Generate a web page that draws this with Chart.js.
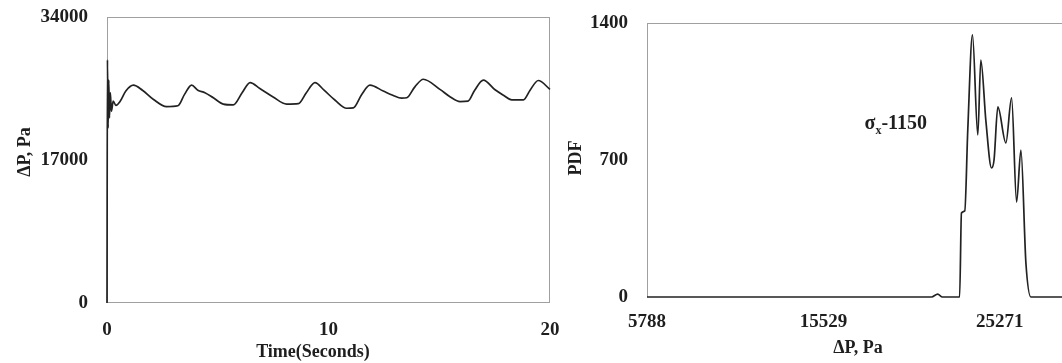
<!DOCTYPE html>
<html>
<head>
<meta charset="utf-8">
<script src="https://cdn.jsdelivr.net/npm/chart.js@4.4.1/dist/chart.umd.min.js"></script>
<style>
    body { margin: 0; background: #fff; }
    #wrap { position: relative; width: 1062px; height: 363px; overflow: hidden; }
    #tempo { position: absolute; left: 0; top: 0; }
    #pdf { position: absolute; left: 560px; top: 0; }
</style>
</head>
<body>
<div id="wrap">
    <canvas id="tempo" width="560" height="363"></canvas>
    <canvas id="pdf" width="502" height="363"></canvas>
</div>
<script>
// Serie temporal (s, Pa)
const tempoSeg = [0, 0.02, 0.05, 0.08, 0.11, 0.15, 0.2, 0.28, 0.4, 0.6, 0.85, 1.19, 1.6, 2.1, 2.69, 3.2, 3.5, 3.82, 4.1, 4.42,
    4.8, 5.25, 5.7, 6.1, 6.46, 6.9, 7.5, 8.11, 8.64, 9.0, 9.39, 9.8, 10.3, 10.82, 11.12, 11.5, 11.87, 12.47, 12.9, 13.3,
    13.53, 13.9, 14.28, 15.03, 15.5, 15.94, 16.3, 16.6, 16.99, 17.52, 17.9, 18.27, 18.8, 19.1, 19.47, 20];
const deltaP = [0, 28900, 20800, 26500, 22000, 25000, 22800, 24000, 23500, 24000, 25200, 25900, 25300, 24200, 23350, 23450, 24800, 25900, 25300, 25000,
    24400, 23650, 23550, 25000, 26200, 25500, 24500, 23650, 23700, 25000, 26200, 25300, 24100, 23150, 23200, 24800, 25900, 25200, 24700, 24350,
    24400, 25700, 26600, 25400, 24500, 23950, 24000, 25300, 26500, 25350, 24700, 24150, 24150, 25300, 26450, 25400];

// Distribuicao (Pa, PDF)
const pdfPa = [5788, 21500, 21839, 22100, 23050, 23151, 23334, 23500, 23760, 24054, 24220, 24500, 24812, 24950, 25161,
    25603, 25919, 26196, 26434, 26710, 26987, 28703];
const pdfVal = [0, 0, 15, 0, 0, 429, 440, 853, 1339, 828, 1211, 900, 659, 700, 971,
    787, 1017, 485, 751, 174, 0, 0];

// Ticks
const ticksTempo = [0, 10, 20];
const ticksDeltaP = [0, 17000, 34000];
const ticksPa = [5788, 15529, 25271];
const ticksPdf = [0, 700, 1400];

const fonte = "'Liberation Serif', 'Times New Roman', serif";
const corTexto = "#1e1e1e";

// Moldura, titulos e anotacao
const molduraPlugin = {
    id: "moldura",
    beforeDatasetsDraw(chart, args, opts) {
        const a = chart.chartArea;
        const ctx = chart.ctx;
        ctx.save();
        ctx.strokeStyle = "#a0a0a0";
        ctx.lineWidth = 1;
        ctx.beginPath();
        if (opts.lados.includes("top")) { ctx.moveTo(a.left, a.top + 0.5); ctx.lineTo(a.right, a.top + 0.5); }
        if (opts.lados.includes("left")) { ctx.moveTo(a.left + 0.5, a.top); ctx.lineTo(a.left + 0.5, a.bottom); }
        if (opts.lados.includes("right")) { ctx.moveTo(a.right - 0.5, a.top); ctx.lineTo(a.right - 0.5, a.bottom); }
        if (opts.lados.includes("bottom")) { ctx.moveTo(a.left, a.bottom - 0.5); ctx.lineTo(a.right, a.bottom - 0.5); }
        ctx.stroke();
        ctx.restore();
    },
    afterDraw(chart, args, opts) {
        const ctx = chart.ctx;
        ctx.save();
        ctx.fillStyle = corTexto;
        ctx.font = "bold 18px " + fonte;
        ctx.textAlign = "center";
        ctx.textBaseline = "middle";
        (opts.titulos || []).forEach(t => {
            ctx.save();
            ctx.translate(t.x, t.y);
            if (t.girar) ctx.rotate(-Math.PI / 2);
            ctx.fillText(t.texto, 0, 0);
            ctx.restore();
        });
        if (opts.nota) {
            const x = chart.scales.x.getPixelForValue(opts.nota.x);
            const y = chart.scales.y.getPixelForValue(opts.nota.y);
            ctx.textAlign = "left";
            ctx.textBaseline = "alphabetic";
            ctx.font = "bold 20px " + fonte;
            ctx.fillText("σ", x, y);
            let w = ctx.measureText("σ").width;
            ctx.font = "bold 12px " + fonte;
            ctx.fillText("x", x + w, y + 5);
            w += ctx.measureText("x").width;
            ctx.font = "bold 20px " + fonte;
            ctx.fillText("-1150", x + w, y);
        }
        ctx.restore();
    }
};

function escala(min, max, ticks, fit) {
    return {
        type: "linear",
        min: min,
        max: max,
        grid: { display: false, drawTicks: false },
        border: { display: false },
        ticks: {
            color: corTexto,
            font: { family: fonte, size: 19, weight: "bold" },
            padding: fit.pad,
            maxRotation: 0,
            autoSkip: false,
            callback: v => String(v)
        },
        afterBuildTicks: s => { s.ticks = ticks.map(v => ({ value: v })); },
        afterFit: s => {
            if (fit.w) s.width = fit.w;
            if (fit.h) s.height = fit.h;
            // a area do grafico fica so com o padding do layout
            s.paddingTop = 0; s.paddingBottom = 0; s.paddingLeft = 0; s.paddingRight = 0;
        }
    };
}

function criarGrafico(id, xs, ys, escalas, padding, plug) {
    const ctx = document.getElementById(id).getContext("2d");
    return new Chart(ctx, {
        type: "line",
        data: {
            datasets: [{
                data: xs.map((x, i) => ({ x: x, y: ys[i] })),
                borderColor: "#222",
                borderWidth: 1.7,
                pointRadius: 0,
                fill: false,
                cubicInterpolationMode: "monotone",
                clip: false
            }]
        },
        options: {
            responsive: false,
            devicePixelRatio: 1,
            animation: false,
            layout: { padding: padding },
            plugins: { legend: { display: false }, tooltip: { enabled: false }, moldura: plug },
            scales: escalas
        },
        plugins: [molduraPlugin]
    });
}

criarGrafico("tempo", tempoSeg, deltaP, {
    x: escala(0, 20, ticksTempo, { h: 60, pad: 16 }),
    y: escala(0, 34000, ticksDeltaP, { w: 107, pad: 19 })
}, { top: 17, right: 10, left: 0, bottom: 0 }, {
    lados: ["top", "left", "right", "bottom"],
    titulos: [
        { texto: "ΔP, Pa", x: 25, y: 152, girar: true },
        { texto: "Time(Seconds)", x: 313, y: 352 }
    ]
});

criarGrafico("pdf", pdfPa, pdfVal, {
    x: escala(5788, 28703, ticksPa, { h: 66, pad: 14 }),
    y: escala(0, 1400, ticksPdf, { w: 87, pad: 19 })
}, { top: 23, right: 0, left: 0, bottom: 0 }, {
    lados: ["top", "left"],
    titulos: [
        { texto: "PDF", x: 16, y: 158, girar: true },
        { texto: "ΔP, Pa", x: 298, y: 348 }
    ],
    nota: { x: 17800, y: 860 }
});
</script>
</body>
</html>
